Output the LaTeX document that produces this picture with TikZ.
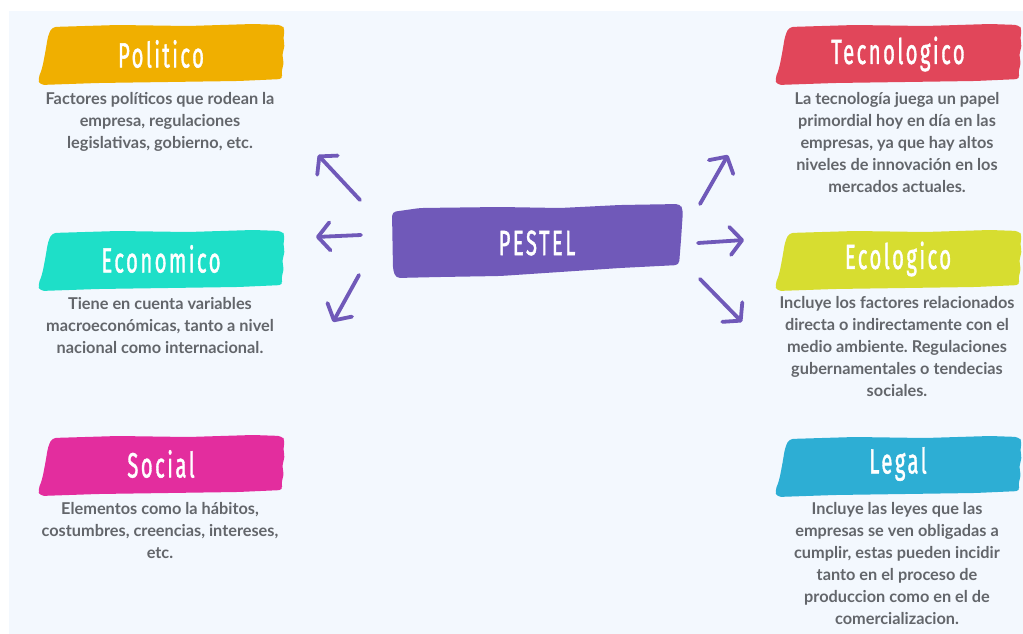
\documentclass[tikz,border=0pt]{standalone}
\usepackage{fontspec}
\setmainfont{Lato}
\newfontfamily\titlefont[LetterSpace=12,FakeBold=1.6]{Fira Sans}
\newfontfamily\bodyfont{Lato Bold}
\usetikzlibrary{arrows.meta}
\definecolor{panel}{HTML}{F3F8FE}
\definecolor{cPol}{HTML}{F0AF00}
\definecolor{cTec}{HTML}{E1465A}
\definecolor{cEco}{HTML}{1EDFC8}
\definecolor{cEcl}{HTML}{D7DD30}
\definecolor{cSoc}{HTML}{E32D9E}
\definecolor{cLeg}{HTML}{2DAED4}
\definecolor{cPur}{HTML}{7059B9}
\definecolor{txt}{HTML}{63666B}
\tikzset{
  titletext/.style={text=white, font=\titlefont\fontsize{35}{40}\selectfont, inner sep=0pt},
  desctext/.style={text=txt, font=\bodyfont\fontsize{16.3}{22}\selectfont, align=center, inner sep=0pt, anchor=north},
  pestarrow/.style={draw=cPur, line width=3.8pt, line cap=round, line join=round,
    -{Straight Barb[length=12pt,width=28pt,line width=3.8pt,round]}},
  brushfill/.style={fill=#1, draw=none, rounded corners=4pt}
}
\newcommand\brushshape[3]{%
  \fill[brushfill=#3, shift={(#1,#2)}]
   (14,3) -- (80,1) -- (150,2) -- (215,0) -- (244,1) -- (247,6) -- (245,14) -- (247,22)
   -- (244,30) -- (246,40) -- (243,48) -- (245,55) -- (200,57) -- (130,58) -- (60,59)
   -- (2,61) -- (0,55) -- (4,45) -- (7,30) -- (10,12) -- cycle;}
\newcommand\ttl[1]{\scalebox{0.58}[1]{#1}}
\begin{document}
\begin{tikzpicture}[x=1pt,y=-1pt]
\frenchspacing
\useasboundingbox (0,0) rectangle (1023,634);
\fill[white] (0,0) rectangle (1023,634);
\fill[panel] (9,11) rectangle (1023,634);

% brushes
\brushshape{38}{24}{cPol}
\brushshape{38}{230}{cEco}
\brushshape{38}{435}{cSoc}
\brushshape{775}{24}{cTec}
\brushshape{775}{230}{cEcl}
\brushshape{775}{436}{cLeg}
\fill[brushfill=cPur] (392,212) -- (420,208) -- (500,207) -- (560,208) -- (620,205) -- (680,204)
  -- (683,210) -- (681,240) -- (679,265) -- (620,268) -- (560,272) -- (500,276) -- (440,277)
  -- (396,278) -- (393,270) -- cycle;

% titles
\node[titletext] (pol) at (161,54) {\ttl{Politico}};
\node[titletext] (eco) at (161,259) {\ttl{Economico}};
\node[titletext] (soc) at (161,464) {\ttl{Social}};
\node[titletext] (tec) at (898,54) {\ttl{Tecnologico}};
\node[titletext] (ecl) at (898,259) {\ttl{Ecologico}};
\node[titletext] (leg) at (898,464) {\ttl{Legal}};
\node[titletext] (pes) at (537,243) {\ttl{PESTEL}};

% descriptions
\node[desctext] (dpol) at (160,92) {Factores políticos que rodean la\\empresa, regulaciones\\legislativas, gobierno, etc.};
\node[desctext] (deco) at (160,297) {Tiene en cuenta variables\\macroeconómicas, tanto a nivel\\nacional como internacional.};
\node[desctext] (dsoc) at (160,502) {Elementos como la hábitos,\\costumbres, creencias, intereses,\\etc.};
\node[desctext] (dtec) at (897,92) {La tecnología juega un papel\\primordial hoy en día en las\\empresas, ya que hay altos\\niveles de innovación en los\\mercados actuales.};
\node[desctext] (decl) at (897,296) {Incluye los factores relacionados\\directa o indirectamente con el\\medio ambiente. Regulaciones\\gubernamentales o tendecias\\sociales.};
\node[desctext] (dleg) at (897,502) {Incluye las leyes que las\\empresas se ven obligadas a\\cumplir, estas pueden incidir\\tanto en el proceso de\\produccion como en el de\\comercializacion.};

% arrows
\coordinate (a1s) at (360,200); \coordinate (a1e) at (318,155);
\coordinate (a2s) at (361,235); \coordinate (a2e) at (316,237);
\coordinate (a3s) at (359,275); \coordinate (a3e) at (333,322);
\coordinate (a4s) at (700,204); \coordinate (a4e) at (728,155);
\coordinate (a5s) at (698,243); \coordinate (a5e) at (744,240);
\coordinate (a6s) at (700,279); \coordinate (a6e) at (742,322);
\draw[pestarrow] (a1s) -- (a1e);
\draw[pestarrow] (a2s) -- (a2e);
\draw[pestarrow] (a3s) -- (a3e);
\draw[pestarrow] (a4s) -- (a4e);
\draw[pestarrow] (a5s) -- (a5e);
\draw[pestarrow] (a6s) -- (a6e);
\end{tikzpicture}
\end{document}
